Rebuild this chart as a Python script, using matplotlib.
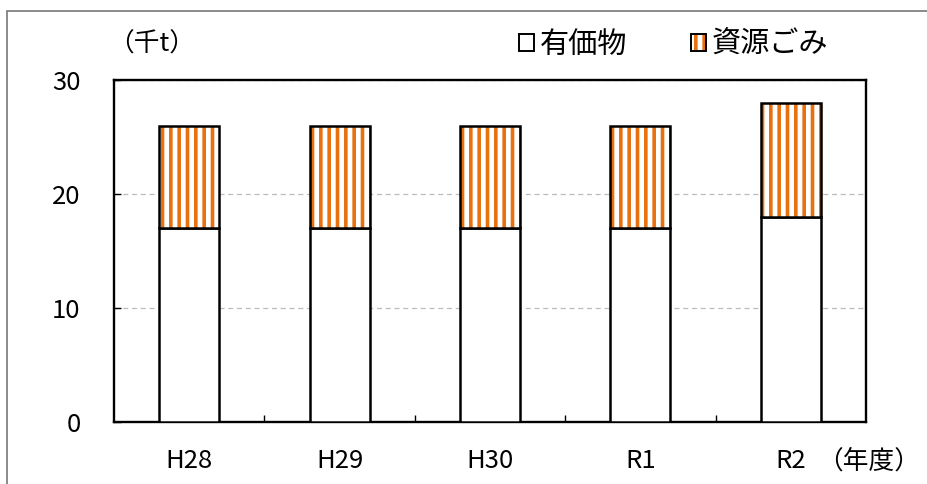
import matplotlib
matplotlib.use('Agg')
import matplotlib.pyplot as plt
from matplotlib.patches import Patch, Rectangle
from matplotlib.legend_handler import HandlerTuple
import numpy as np

plt.rcParams['font.family'] = ['Noto Sans CJK JP', 'DejaVu Sans']
plt.rcParams['hatch.linewidth'] = 2.6

years = ['H28', 'H29', 'H30', 'R1', 'R2']
valuables = [17, 17, 17, 17, 18]      # 有価物
recyclables = [9, 9, 9, 9, 10]        # 資源ごみ

orange = '#E8700F'
fs = 18.5

fig = plt.figure(figsize=(9.28, 4.84), dpi=100)
ax = fig.add_axes([114 / 928, 1 - 422 / 484, (866 - 114) / 928, (422 - 80) / 484])

x = np.arange(len(years))
w = 0.4
ax.bar(x, valuables, w, color='white', edgecolor='black', linewidth=1.8, zorder=3)
ax.bar(x, recyclables, w, bottom=valuables, color='white', edgecolor=orange,
       hatch='||', linewidth=0, zorder=3)
ax.bar(x, recyclables, w, bottom=valuables, fill=False, edgecolor='black',
       linewidth=1.8, zorder=4)

ax.set_xlim(-0.5, len(years) - 0.5)
ax.set_ylim(0, 30)
ax.set_yticks([0, 10, 20, 30])
ax.set_xticks(x)
ax.set_xticklabels(years)
ax.set_xticks(np.arange(0.5, len(years) - 1, 1), minor=True)
ax.tick_params(axis='x', which='major', length=0, pad=19, labelsize=fs)
ax.tick_params(axis='x', which='minor', direction='in', length=5, width=1)
ax.tick_params(axis='y', direction='in', length=5, width=1, pad=24, labelsize=fs)
ax.grid(axis='y', color='#BBBBBB', linestyle=(0, (4, 3)), linewidth=0.9, zorder=0)
for s in ax.spines.values():
    s.set_linewidth(1.7)

fig.text(108 / 928, 1 - 45 / 484, '（千t）', fontsize=fs, va='center', ha='left')
fig.text(817 / 928, 1 - 462 / 484, '（年度）', fontsize=fs, va='center', ha='left')

h1 = Patch(facecolor='white', edgecolor='black', linewidth=1.4)
h2a = Patch(facecolor='white', edgecolor=orange, hatch='||', linewidth=0)
h2b = Patch(fill=False, edgecolor='black', linewidth=1.4)
fig.legend([h1, (h2a, h2b)], ['有価物', '資源ごみ'],
           handler_map={tuple: HandlerTuple(ndivide=1)},
           loc='center left', bbox_to_anchor=(519 / 928, 1 - 45 / 484),
           ncol=2, frameon=False, fontsize=21, handlelength=0.5, handleheight=0.5,
           handletextpad=0.2, columnspacing=2.2, borderpad=0, borderaxespad=0)

# outer frame of the figure
fig.patches.append(Rectangle((7 / 928, -0.1), 1.1, 1 - 11 / 484 + 0.1, transform=fig.transFigure,
                             fill=False, edgecolor='#777777', linewidth=1.2))

fig.savefig('out.png', dpi=100)
